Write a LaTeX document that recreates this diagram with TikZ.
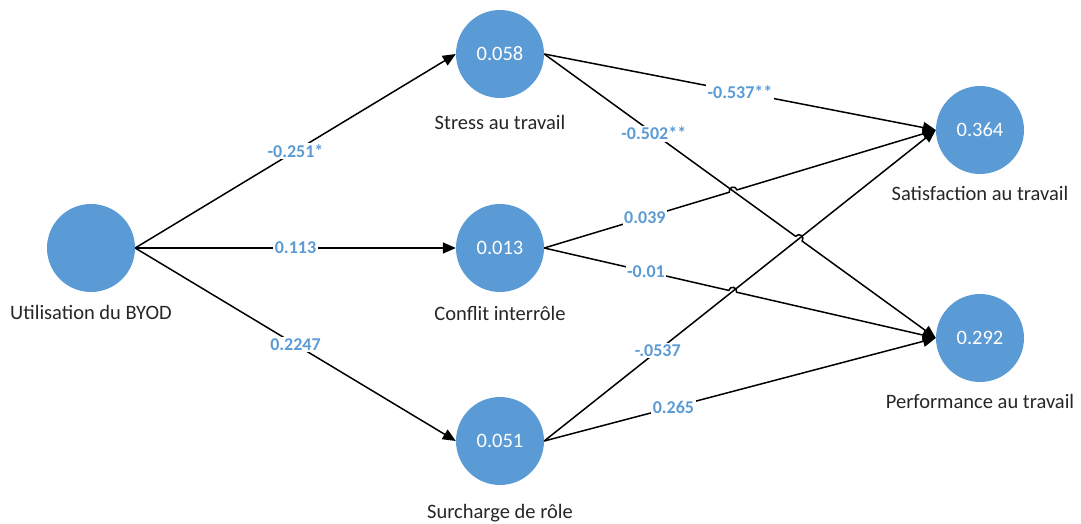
\documentclass[tikz,border=0pt]{standalone}
\usepackage{fontspec}
\setmainfont{Carlito}
\usetikzlibrary{arrows.meta,calc}
\definecolor{cblue}{HTML}{5B9BD5}
\begin{document}
\begin{tikzpicture}[x=1pt,y=-1pt,
  lv/.style={circle, fill=cblue, minimum size=88pt, inner sep=0pt, text=white, font=\fontsize{20.5}{24}\selectfont},
  lbl/.style={text=black!85, anchor=base, inner sep=0pt, font=\fontsize{20.5}{24}\selectfont},
  coef/.style={fill=white, text=cblue, inner sep=1.5pt, font=\bfseries\fontsize{18}{22}\selectfont},
  conn/.style={draw=black, line width=1.5pt, -{Triangle[length=13pt,width=11pt]}},
  hop/.style={bend left=90, looseness=1.7}]
\path[use as bounding box] (0,0) rectangle (1081,524);
% latent variables
\node[lv] (b) at (91,248) {};
\node[lv] (s) at (500,54) {0.058};
\node[lv] (c) at (500,248) {0.013};
\node[lv] (r) at (500,441) {0.051};
\node[lv] (sat) at (980,130) {0.364};
\node[lv] (p) at (980,338) {0.292};
% names
\node[lbl] (bl) at (91,319) {Utilisation du BYOD};
\node[lbl] (sl) at (500,129) {Stress au travail};
\node[lbl] (cl) at (500,320) {Conflit interrôle};
\node[lbl] (rl) at (500,518) {Surcharge de rôle};
\node[lbl] (satl) at (980,200) {Satisfaction au travail};
\node[lbl] (pl) at (980,408) {Performance au travail};
% anchors
\coordinate (sE) at (s.east);
\coordinate (cE) at (c.east);
\coordinate (rE) at (r.east);
\coordinate (satW) at (sat.west);
\coordinate (pW) at (p.west);
\coordinate (X1) at (intersection of sE--pW and cE--satW);
\coordinate (X2) at (intersection of rE--satW and cE--pW);
\coordinate (X3) at (intersection of sE--pW and rE--satW);
% connectors
\draw[conn] (b.east) -- (s.west);
\draw[conn] (b.east) -- (c.west);
\draw[conn] (b.east) -- (r.west);
\draw[conn] (sE) -- (satW);
\draw[conn] (sE) -- ($(X3)!4pt!(sE)$) to[hop] ($(X3)!4pt!(pW)$) -- (pW);
\draw[conn] (cE) -- ($(X1)!4pt!(cE)$) to[hop] ($(X1)!4pt!(satW)$) -- (satW);
\draw[conn] (cE) -- ($(X2)!4pt!(cE)$) to[hop] ($(X2)!4pt!(pW)$) -- (pW);
\draw[conn] (rE) -- (satW);
\draw[conn] (rE) -- (pW);
% coefficients
\node[coef] (k1) at ($(b.east)!0.5!(s.west)$) {-0.251*};
\node[coef] (k2) at ($(b.east)!0.5!(c.west)$) {0.113};
\node[coef] (k3) at ($(b.east)!0.5!(r.west)$) {0.2247};
\node[coef] (k4) at ($(sE)!0.5!(satW)$) {-0.537**};
\node[coef] (k5) at ($(sE)!0.28!(pW)$) {-0.502**};
\node[coef] (k6) at ($(cE)!0.257!(satW)$) {0.039};
\node[coef] (k7) at ($(cE)!0.26!(pW)$) {-0.01};
\node[coef] (k8) at ($(rE)!0.29!(satW)$) {-.0537};
\node[coef] (k9) at ($(rE)!0.33!(pW)$) {0.265};
\end{tikzpicture}
\end{document}
